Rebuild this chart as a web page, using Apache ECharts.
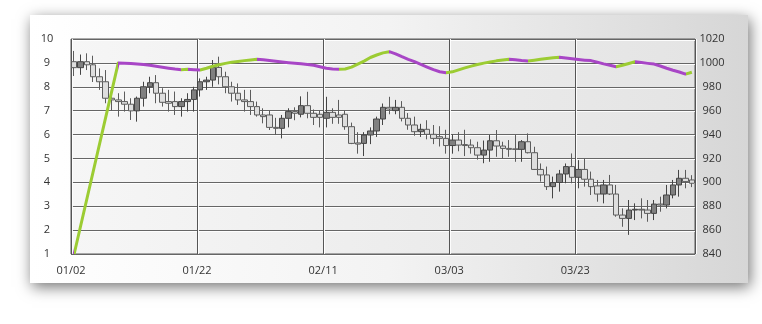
<!DOCTYPE html>
<html>
<head>
<meta charset="utf-8">
<script src="https://cdn.jsdelivr.net/npm/echarts@6/dist/echarts.min.js"></script>
<style>
html,body{margin:0;padding:0;background:#ffffff;}
#chart{width:762px;height:324px;}
</style>
</head>
<body>
<div id="chart"></div>
<script>
// ---- data ----
const startDate = Date.UTC(2023, 0, 2);
const dayCount = 99;
const dates = [];
for (let i = 0; i < dayCount; i++) {
  const d = new Date(startDate + i * 86400000);
  dates.push(String(d.getUTCMonth() + 1).padStart(2, '0') + '/' + String(d.getUTCDate()).padStart(2, '0'));
}

const opens  = [9.05,8.80,9.05,8.92,8.42,8.21,7.52,7.45,7.38,7.27,6.99,7.52,8.00,8.17,7.73,7.38,7.38,7.17,7.38,7.47,
                7.87,8.21,8.28,8.81,8.42,8.00,7.73,7.45,7.38,7.17,6.82,6.82,6.30,6.26,6.68,6.96,6.85,7.21,6.89,6.85,
                6.68,6.93,6.82,6.85,6.33,5.65,5.63,5.98,6.15,6.65,7.14,7.00,7.14,6.68,6.40,6.12,6.22,6.01,5.91,5.84,
                5.54,5.77,5.58,5.56,5.45,5.14,5.35,5.74,5.52,5.42,5.40,5.38,5.70,5.24,4.54,4.31,3.82,3.99,4.35,4.66,
                4.21,4.54,4.13,3.85,3.51,3.89,3.51,2.63,2.49,2.84,2.87,2.84,2.70,3.09,3.05,3.47,3.89,4.17,4.10];
const closes = [8.80,9.05,8.92,8.42,8.21,7.52,7.45,7.38,7.27,6.99,7.52,8.00,8.17,7.73,7.35,7.31,7.17,7.38,7.47,7.87,
                8.21,8.28,8.81,8.42,8.00,7.73,7.45,7.38,7.17,6.82,6.75,6.30,6.26,6.68,6.96,6.89,7.21,6.89,6.72,6.72,
                6.93,6.72,6.72,6.33,5.63,5.60,5.98,6.15,6.65,7.14,7.07,7.14,6.68,6.40,6.12,6.22,6.01,5.84,5.84,5.54,
                5.77,5.56,5.54,5.45,5.14,5.35,5.74,5.52,5.42,5.38,5.38,5.70,5.24,4.54,4.31,3.82,3.99,4.35,4.66,4.21,
                4.54,4.13,3.82,3.51,3.89,3.51,2.63,2.49,2.84,2.87,2.84,2.70,3.09,3.05,3.47,3.89,4.17,4.03,3.96];
const lows   = [8.45,8.50,8.70,8.20,7.87,7.31,7.00,6.75,6.96,6.61,6.54,7.17,7.73,7.31,7.17,6.96,6.82,6.75,6.96,6.96,
                7.59,7.87,8.00,8.10,7.73,7.38,7.24,6.96,6.82,6.75,6.47,6.19,5.98,5.84,6.30,6.60,6.72,6.68,6.40,6.30,
                6.30,6.45,6.45,6.20,5.60,5.20,5.10,5.60,5.90,6.40,6.85,6.85,6.55,6.20,5.95,5.90,5.80,5.60,5.50,5.20,
                5.20,5.30,5.10,5.20,4.95,4.80,4.86,5.07,5.00,5.07,4.86,4.86,5.21,4.52,4.03,3.68,3.33,3.61,3.96,3.96,
                3.75,3.82,3.47,3.19,3.12,3.47,2.56,2.14,1.80,2.42,2.49,2.35,2.42,2.77,2.91,3.33,3.40,3.75,3.80];
const highs  = [9.50,9.35,9.40,9.30,8.77,8.70,7.90,7.73,7.80,7.52,7.59,8.21,8.42,8.49,7.94,7.87,7.80,7.52,7.73,8.00,
                8.35,8.42,9.12,9.26,8.63,8.21,8.14,7.87,7.87,7.38,7.10,7.00,6.70,6.82,7.10,7.14,7.60,7.79,7.05,7.00,
                7.58,7.10,7.45,7.00,6.50,6.10,6.10,6.30,6.75,7.30,7.58,7.45,7.40,6.90,6.75,6.45,6.60,6.40,6.35,6.20,
                6.00,6.10,6.20,5.80,5.70,5.75,5.98,6.19,5.70,5.77,5.98,5.77,6.05,5.49,4.79,4.66,4.24,4.52,4.79,5.21,
                4.93,5.00,4.45,4.10,4.10,4.31,3.89,2.91,3.26,3.12,3.33,3.26,3.26,3.40,3.89,4.10,4.52,4.52,4.30];
const lineValues = [840,null,null,null,null,null,null,1000.0,999.8,999.5,999.1,998.6,998.0,997.2,996.4,995.6,994.8,994.2,994.6,994.3,
                994.0,995.5,997.2,998.4,999.6,1000.5,1001.2,1001.9,1002.5,1003.0,1002.6,1002.0,1001.4,1000.8,1000.2,999.7,999.2,998.7,998.0,996.8,
                995.5,994.9,994.7,994.9,996.5,999.0,1001.5,1004.5,1006.6,1008.4,1009.4,1007.6,1005.2,1003.0,1001.0,998.8,996.5,994.3,992.6,991.8,
                992.5,994.2,995.8,997.3,998.6,999.8,1000.8,1001.7,1002.4,1003.0,1002.6,1002.0,1001.6,1002.3,1003.0,1003.7,1004.3,1004.7,1004.1,1003.4,
                1002.8,1002.3,1001.9,1000.6,999.2,998.0,996.8,998.0,999.5,1001.0,1000.3,999.6,999.0,997.4,995.5,993.8,992.4,990.6,992.2];
const leftTicks = {min: 1, max: 10, step: 1};
const rightTicks = {min: 840, max: 1020, step: 20};
const labelEvery = 20;

// ---- build ----
const GREEN = '#9ccc33';
const PURPLE = '#a846c6';
const candleData = opens.map((o, i) => [o, closes[i], lows[i], highs[i]]);

const pieces = [];
let prev = null;
lineValues.forEach((v, i) => {
  if (v == null) return;
  if (prev !== null) {
    const color = v >= lineValues[prev] ? GREEN : PURPLE;
    const last = pieces[pieces.length - 1];
    if (last && last.color === color) last.lt = i;
    else pieces.push({gte: prev, lt: i, color: color});
  }
  prev = i;
});
if (pieces.length) { const last = pieces[pieces.length - 1]; last.lte = last.lt; delete last.lt; }

const labelFont = {fontFamily: 'Open Sans', fontSize: 11, color: '#333333'};

const chart = echarts.init(document.getElementById('chart'), null, {renderer: 'canvas'});
chart.setOption({
  animation: false,
  backgroundColor: '#ffffff',
  graphic: [{
    type: 'rect', z: -10, silent: true,
    shape: {x: 30, y: 15, width: 718, height: 268},
    style: {
      fill: new echarts.graphic.LinearGradient(0, 0, 1, 0, [
        {offset: 0, color: '#ffffff'}, {offset: 0.5, color: '#f3f3f3'}, {offset: 1, color: '#d6d6d6'}]),
      shadowBlur: 14, shadowColor: 'rgba(0,0,0,0.55)', shadowOffsetX: 2, shadowOffsetY: 4
    }
  }],
  grid: {
    left: 71, right: 67, top: 39, bottom: 70,
    show: true,
    borderColor: '#5a5a5a', borderWidth: 1,
    backgroundColor: new echarts.graphic.LinearGradient(0, 0, 1, 0, [
      {offset: 0, color: '#f6f6f6'}, {offset: 1, color: '#e4e4e4'}])
  },
  visualMap: {
    show: false, type: 'piecewise', dimension: 0, seriesIndex: 1,
    pieces: pieces, outOfRange: {color: PURPLE}
  },
  xAxis: [{
    type: 'category', data: dates, boundaryGap: true, show: false
  }, {
    type: 'value', min: 0, max: dayCount, interval: labelEvery, position: 'bottom',
    axisLine: {show: false}, axisTick: {show: false},
    axisLabel: Object.assign({margin: 11, showMaxLabel: false,
      formatter: v => dates[v] || ''}, labelFont),
    splitLine: {show: true, lineStyle: {color: '#555555', width: 1, shadowColor: 'rgba(255,255,255,0.9)', shadowOffsetX: 1}}
  }],
  yAxis: [{
    type: 'value', min: leftTicks.min, max: leftTicks.max, interval: leftTicks.step, position: 'left',
    axisLine: {show: false}, axisTick: {show: false},
    axisLabel: Object.assign({margin: 24, align: 'center', formatter: v => String(v)}, labelFont),
    splitLine: {show: true, lineStyle: {color: '#666666', width: 1, shadowColor: 'rgba(255,255,255,0.9)', shadowOffsetY: 1}}
  }, {
    type: 'value', min: rightTicks.min, max: rightTicks.max, interval: rightTicks.step, position: 'right',
    axisLine: {show: false}, axisTick: {show: false},
    axisLabel: Object.assign({margin: 17, align: 'center', formatter: v => String(v)}, labelFont),
    splitLine: {show: false}
  }],
  series: [{
    type: 'candlestick', xAxisIndex: 0, yAxisIndex: 0,
    data: candleData, barWidth: 6,
    itemStyle: {
      color: '#808080', color0: '#dedede',
      borderColor: '#454545', borderColor0: '#5c5c5c', borderColorDoji: '#5c5c5c', borderWidth: 1
    }
  }, {
    type: 'line', xAxisIndex: 0, yAxisIndex: 1,
    data: lineValues, connectNulls: true, smooth: false,
    showSymbol: false, symbol: 'none',
    lineStyle: {width: 3, join: 'round'}
  }]
});
</script>
</body>
</html>
